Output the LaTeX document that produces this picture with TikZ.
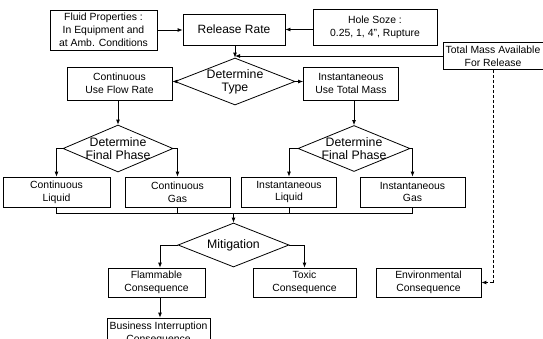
\documentclass[tikz,border=0pt]{standalone}
\usepackage{fontspec}
\setmainfont{Liberation Sans}
\usetikzlibrary{shapes.geometric,arrows.meta,positioning}
\begin{document}
\begin{tikzpicture}[x=1pt,y=-1pt,
  line width=0.8pt,
  box/.style={draw,rectangle,inner sep=0pt,align=center,font=\fontsize{10.4}{12.8}\selectfont},
  dia/.style={draw,diamond,inner sep=0pt},
  dtext/.style={align=center,font=\fontsize{12.3}{13}\selectfont,inner sep=0pt},
  arr/.style={-{Latex[length=5pt,width=4pt]}},
  dsh/.style={densely dashed,line width=0.9pt}]
\useasboundingbox (0,0) rectangle (543,338);
% top row
\node[box,minimum width=107pt,minimum height=40pt] (fluid) at (103.5,30) {Fluid Properties :\\In Equipment and\\at Amb. Conditions};
\node[box,minimum width=102pt,minimum height=31pt,font=\fontsize{12}{14}\selectfont] (rate) at (234,29.5) {Release Rate};
\node[box,minimum width=124pt,minimum height=36pt] (hole) at (375,27) {Hole Soze :\\0.25, 1, 4”, Rupture};
\node[box,minimum width=100pt,minimum height=27pt] (total) at (493,56) {Total Mass Available\\For Release};
% determine type
\node[dia,minimum width=120pt,minimum height=47pt] (dtype) at (235,81.5) {};
\node[dtext] (dtypet) at (dtype) {Determine\\Type};
\node[box,minimum width=105pt,minimum height=33pt] (cont) at (119.5,83.5) {Continuous\\Use Flow Rate};
\node[box,minimum width=95pt,minimum height=33pt] (inst) at (351,83.5) {Instantaneous\\Use Total Mass};
% final phase diamonds
\node[dia,minimum width=110pt,minimum height=47pt] (dfp1) at (118,148.5) {};
\node[dtext] (dfp1t) at (dfp1) {Determine\\Final Phase};
\node[dia,minimum width=112pt,minimum height=46pt] (dfp2) at (354,148.5) {};
\node[dtext] (dfp2t) at (dfp2) {Determine\\Final Phase};
% phase boxes
\node[box,minimum width=107pt,minimum height=30pt] (cliq) at (56.5,192) {Continuous\\Liquid};
\node[box,minimum width=105pt,minimum height=30pt] (cgas) at (177.5,192) {Continuous\\Gas};
\node[box,minimum width=95pt,minimum height=30pt] (iliq) at (289,192) {Instantaneous\\Liquid};
\node[box,minimum width=105pt,minimum height=30pt] (igas) at (412.5,192) {Instantaneous\\Gas};
% mitigation
\node[dia,minimum width=111pt,minimum height=44pt] (mit) at (233.5,245) {};
\node[dtext] (mitt) at (mit) {Mitigation};
\node[box,minimum width=97pt,minimum height=29pt] (flam) at (156.5,282.5) {Flammable\\Consequence};
\node[box,minimum width=103pt,minimum height=29pt] (tox) at (304.5,282.5) {Toxic\\Consequence};
\node[box,minimum width=103pt,minimum height=30pt] (bi) at (158.5,333) {Business Interruption\\Consequence};
\node[box,minimum width=105pt,minimum height=29pt] (env) at (428.5,282.5) {Environmental\\Consequence};
% connectors top
\draw[arr] (fluid.east) -- (rate.west |- fluid.east);
\draw[arr] (hole.west |- rate.east) -- (rate.east);
\draw[arr] (rate.south -| dtype.north) -- (dtype.north);
\coordinate (tm) at (dtype.north |- total.west);
\draw[arr] (total.west) -- (tm);
\draw[arr] (dtype.west) -- (cont.east |- dtype.west);
\draw[arr] (dtype.east) -- (inst.west |- dtype.east);
\draw[arr] (cont.south -| dfp1.north) -- (dfp1.north);
\draw[arr] (inst.south -| dfp2.north) -- (dfp2.north);
% final phase outputs
\draw[arr] (dfp1.west) -| (cliq.north);
\draw[arr] (dfp1.east) -| (cgas.north);
\draw[arr] (dfp2.west) -| (iliq.north);
\draw[arr] (dfp2.east) -| (igas.north);
% collector
\coordinate (col) at (mit.north |- 0,213);
\draw (cliq.south) |- (col);
\draw (igas.south) |- (col);
\draw (cgas.south) -- (cgas.south |- col);
\draw (iliq.south) -- (iliq.south |- col);
\draw[arr] (col) -- (mit.north);
% mitigation outputs
\coordinate (fl) at (160,0);
\coordinate (tx) at (304.5,0);
\draw[arr] (mit.west) -| (flam.north -| fl);
\draw[arr] (mit.east) -| (tox.north -| tx);
\draw[arr] (flam.south -| fl) -- (bi.north -| fl);
% environmental
\coordinate (ev) at (total.south |- env.east);
\draw[dsh] (total.south) -- (ev);
\draw[arr,dsh] (ev) -- (env.east);
\end{tikzpicture}
\end{document}
